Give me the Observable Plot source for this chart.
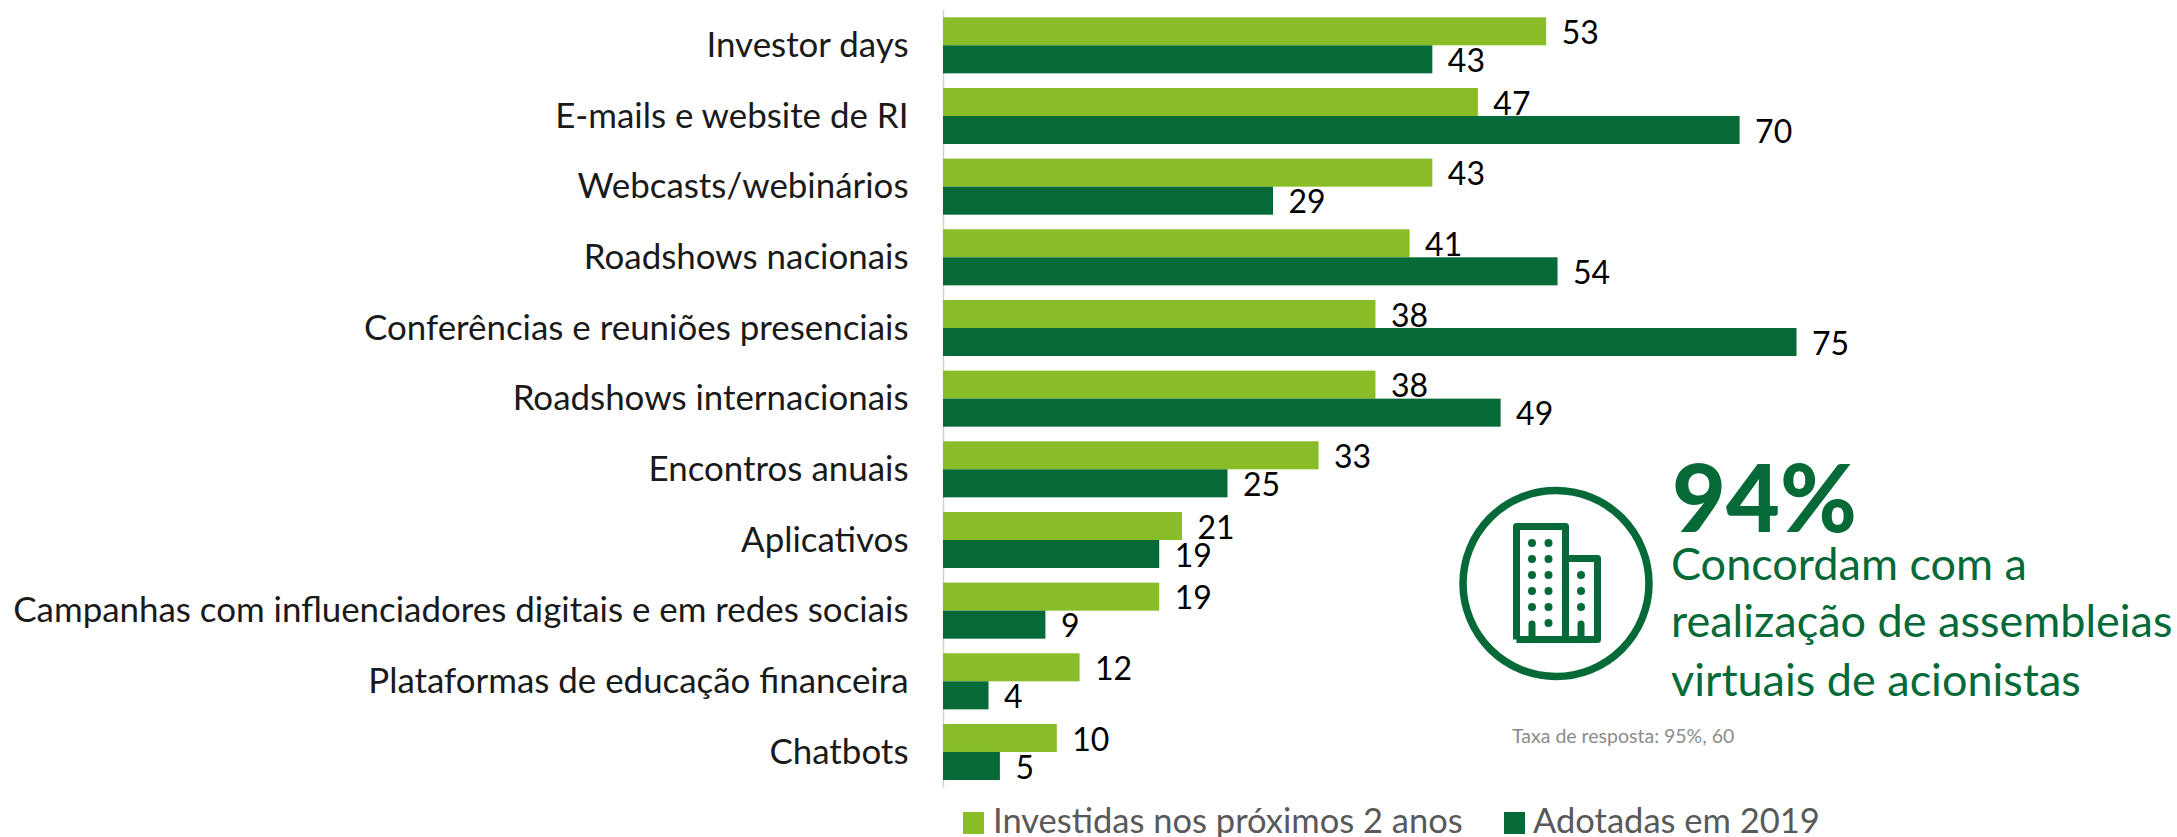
<!DOCTYPE html>
<html><head><meta charset="utf-8">
<style>html,body{margin:0;padding:0;background:#fff;overflow:hidden}</style>
<script src="https://cdn.jsdelivr.net/npm/d3@7"></script>
<script src="https://cdn.jsdelivr.net/npm/@observablehq/plot@0.6"></script>
</head><body><div id="c"></div>
<script>
const categories = ["Investor days","E-mails e website de RI","Webcasts/webinários","Roadshows nacionais","Conferências e reuniões presenciais","Roadshows internacionais","Encontros anuais","Aplicativos","Campanhas com influenciadores digitais e em redes sociais","Plataformas de educação financeira","Chatbots"];
const seriesNames = ["Investidas nos próximos 2 anos","Adotadas em 2019"];
const investidas = [53,47,43,41,38,38,33,21,19,12,10];
const adotadas = [43,70,29,54,75,49,25,19,9,4,5];
const colors = ["#88BD27","#056A38"];
const green = "#056A38";
const calloutBig = "94%";
const calloutLines = ["Concordam com a","realização de assembleias","virtuais de acionistas"];
const responseNote = "Taxa de resposta: 95%, 60";

const rows = categories.flatMap((cat,i)=>[
  {cat,series:seriesNames[0],v:investidas[i]},
  {cat,series:seriesNames[1],v:adotadas[i]}
]);

function overlay(){
  const g=d3.create("svg:g").attr("text-anchor","start");
  g.append("circle").attr("cx",1556).attr("cy",583.5).attr("r",93).attr("fill","none").attr("stroke",green).attr("stroke-width",7.5);
  g.append("path").attr("d","M1516.5 639.5V526.5H1565.5V639.5M1565.5 558.5H1597.5V639.5H1516.5")
    .attr("fill","none").attr("stroke",green).attr("stroke-width",7).attr("stroke-linejoin","round");
  [[1532,543],[1548.5,543],[1532,559],[1548.5,559],[1532,575],[1548.5,575],[1581,575],[1532,591],[1548.5,591],[1581,591],[1532,607],[1548.5,607],[1581,607],[1548.5,623]]
    .forEach(([x,y])=>g.append("circle").attr("cx",x).attr("cy",y).attr("r",4).attr("fill",green));
  [1532,1581].forEach(x=>g.append("path").attr("d",`M${x} 639V624`).attr("stroke",green).attr("stroke-width",7).attr("stroke-linecap","round"));
  const txt=(s,x,y,size,fill,weight)=>g.append("text").text(s).attr("x",x).attr("y",y).attr("font-size",size).attr("fill",fill).attr("font-weight",weight||400);
  txt(calloutBig,1672,532,93,green,900);
  txt(calloutLines[0],1671,580,45,green);
  txt(calloutLines[1],1671,637,45,green);
  txt(calloutLines[2],1671,696,45,green);
  txt(responseNote,1512,743,19.5,"#8c8c8c");
  g.append("rect").attr("x",963).attr("y",812).attr("width",21).attr("height",22).attr("fill",colors[0]);
  txt(seriesNames[0],993,833,34.5,"#595959");
  g.append("rect").attr("x",1504).attr("y",812).attr("width",21).attr("height",22).attr("fill",colors[1]);
  txt(seriesNames[1],1533,833,34.5,"#595959");
  return g.node();
}

const chart = Plot.plot({
  width:2177, height:837,
  marginLeft:943, marginRight:96, marginTop:17.3, marginBottom:57,
  style:{fontFamily:"Lato",background:"#fff",overflow:"hidden"},
  x:{domain:[0,100],axis:null},
  y:{domain:seriesNames,axis:null,padding:0,round:false},
  fy:{domain:categories,paddingInner:0.207,paddingOuter:0,round:false,label:null},
  marks:[
    Plot.ruleX(categories,{x:()=>0,fy:d=>d,stroke:"#d0d0d0",strokeWidth:1.5,insetTop:-7.5,insetBottom:-7.5}),
    Plot.text(rows,{x:"v",y:"series",fy:"cat",text:"v",dx:15,dy:2,textAnchor:"start",fontSize:32,fill:"#000"}),
    Plot.barX(rows,{x:"v",y:"series",fy:"cat",fill:d=>colors[seriesNames.indexOf(d.series)]}),
    Plot.axisFy({anchor:"left",tickSize:0,tickPadding:35,fontSize:34.9,fill:"#1a1a1a",label:null})
  ]
});
chart.appendChild(overlay());
document.getElementById("c").appendChild(chart);
</script></body></html>
